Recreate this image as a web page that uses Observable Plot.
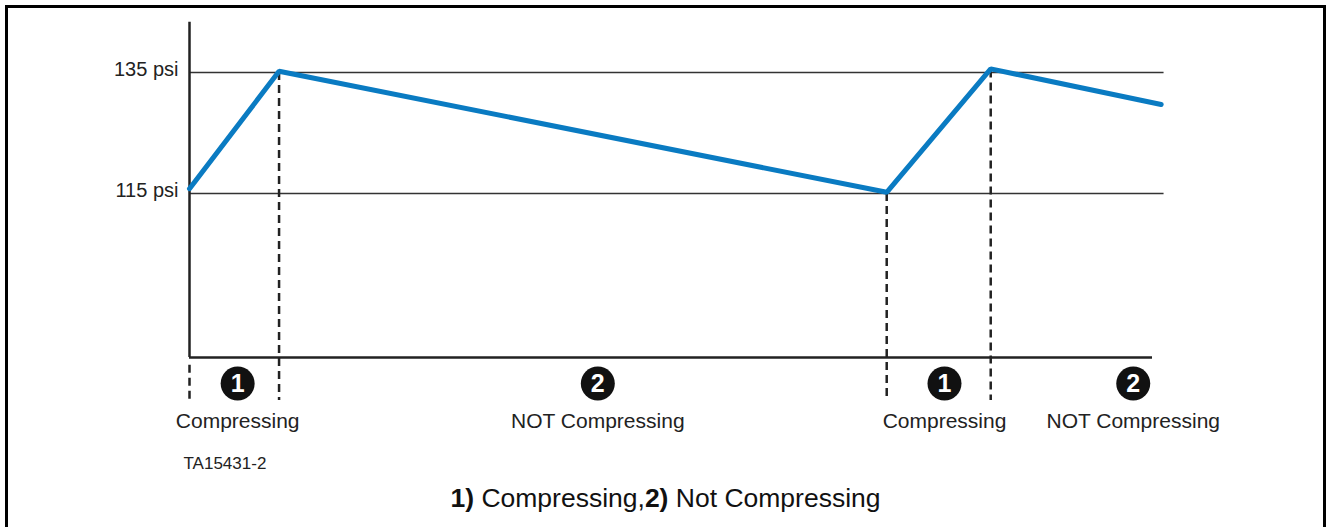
<!DOCTYPE html>
<html>
<head>
<meta charset="utf-8">
<script src="https://cdn.jsdelivr.net/npm/d3@7"></script>
<script src="https://cdn.jsdelivr.net/npm/@observablehq/plot@0.6"></script>
<style>
  html, body { margin: 0; padding: 0; background: #fff; overflow: hidden; }
  body { font-family: "Liberation Sans", Arial, sans-serif; }
  #frame {
    position: absolute; left: 5px; top: 5px;
    width: 1315px; height: 600px;
    border: 3px solid #000; background: #fff;
  }
  #chart svg { display: block; }
  #caption {
    text-align: center; font-size: 26.5px; line-height: 40px; color: #111;
    font-family: "Liberation Sans", Arial, sans-serif;
  }
</style>
</head>
<body>
<div id="frame">
  <div id="chart"></div>
  <div id="caption"><b>1)</b> Compressing,<b>2)</b> Not Compressing</div>
</div>
<script>
// ---- data (time in arbitrary units, pressure in psi) ----
const times = [0, 9.3, 72.4, 83.2, 100.9];
const pressures = [115.8, 135.2, 115.2, 135.6, 129.7];

const tickValues = [135, 115];
const tickLabels = ["135 psi", "115 psi"];

const boundaryTimes = [0, 9.3, 72.4, 83.2];
const boundaryTops = [86.6, 135, 115, 135.4];
const boundaryBottom = 80.8;

const phaseTimes = [5.0, 42.4, 78.4, 98.0];
const phaseNumbers = ["1", "2", "1", "2"];
const phaseLabels = ["Compressing", "NOT Compressing", "Compressing", "NOT Compressing"];

const figureCode = "TA15431-2";

const axisMinPsi = 87.9, axisMaxPsi = 143.3;
const axisEndTime = 100, gridEndTime = 101.2;

// ---- build tables ----
const series = times.map((t, i) => ({t, p: pressures[i]}));
const ticks = tickValues.map((v, i) => ({v, label: tickLabels[i]}));
const bounds = boundaryTimes.map((t, i) => ({t, top: boundaryTops[i], bottom: boundaryBottom}));
const phases = phaseTimes.map((t, i) => ({t, n: phaseNumbers[i], label: phaseLabels[i]}));

const ink = "#222";
const W = 1315, H = 470;

const chart = Plot.plot({
  width: W, height: H,
  margin: 0,
  x: {domain: [0, 100], range: [181, 1144], axis: null},
  y: {domain: [115, 135], range: [185, 64], axis: null},
  style: {fontFamily: "'Liberation Sans', Arial, sans-serif", background: "#fff"},
  marks: [
    // gridlines at 115 / 135 psi
    Plot.ruleY(ticks, {y: "v", x1: 0, x2: gridEndTime, stroke: "#333", strokeWidth: 1.4}),
    // phase boundary dashed lines
    Plot.ruleX(bounds, {x: "t", y1: "top", y2: "bottom", stroke: ink, strokeWidth: 2.5, strokeDasharray: "8,5"}),
    // axes
    Plot.ruleX([0], {y1: axisMinPsi, y2: axisMaxPsi, stroke: ink, strokeWidth: 2.5}),
    Plot.ruleY([axisMinPsi], {x1: 0, x2: axisEndTime, stroke: ink, strokeWidth: 2.5}),
    // pressure line
    Plot.line(series, {x: "t", y: "p", stroke: "#0a7bc2", strokeWidth: 5, strokeLinejoin: "miter"}),
    // tick labels
    Plot.text(ticks, {x: 0, y: "v", text: "label", textAnchor: "end", lineAnchor: "bottom",
      dx: -11, dy: 3, fontSize: 20, fill: ink}),
    // phase markers
    Plot.dot(phases, {x: "t", frameAnchor: "bottom", dy: -95, r: 17, fill: "#111", stroke: "none"}),
    Plot.text(phases, {x: "t", frameAnchor: "bottom", dy: -95, text: "n", lineAnchor: "middle",
      fill: "#fff", fontSize: 25, fontWeight: "bold"}),
    Plot.text(phases, {x: "t", frameAnchor: "bottom", dy: -51, text: "label", lineAnchor: "bottom",
      fontSize: 21, fill: ink}),
    // figure code
    Plot.text([figureCode], {x: 0, frameAnchor: "bottom", dx: -6, dy: -10, text: d => d,
      textAnchor: "start", lineAnchor: "bottom", fontSize: 17, fill: ink})
  ]
});
document.getElementById("chart").appendChild(chart);
</script>
</body>
</html>
